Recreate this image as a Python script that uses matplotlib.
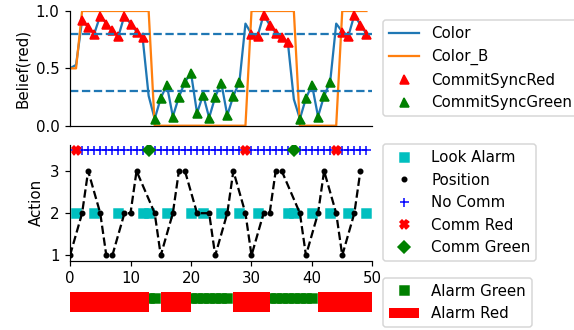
import matplotlib
matplotlib.use('Agg')
import matplotlib.pyplot as plt
import numpy as np

t = np.arange(50)

# belief that the alarm is red, one value per step
color = [0.50, 0.53, 0.92, 0.86, 0.80, 0.96, 0.89, 0.83, 0.78, 0.96,
         0.89, 0.82, 0.77, 0.26, 0.06, 0.24, 0.355, 0.08, 0.25, 0.38,
         0.46, 0.11, 0.27, 0.07, 0.25, 0.375, 0.09, 0.26, 0.38, 0.89,
         0.80, 0.78, 0.965, 0.88, 0.81, 0.77, 0.73, 0.23, 0.06, 0.24,
         0.355, 0.08, 0.26, 0.38, 0.89, 0.82, 0.78, 0.965, 0.88, 0.80]
color_b = [0.5, 0.5] + [1]*12 + [0]*16 + [1]*8 + [0]*7 + [1]*5

commit_red = list(range(2, 13)) + list(range(30, 37)) + list(range(45, 50))
commit_green = list(range(14, 29)) + list(range(38, 44))

# actions
pos_t = [0, 2, 3, 5, 6, 7, 9, 10, 11, 14, 15, 17, 18, 19, 21, 23, 24,
         26, 27, 29, 30, 32, 33, 34, 35, 38, 39, 41, 42, 44, 45, 47, 48]
pos_v = [1, 2, 3, 2, 1, 1, 2, 2, 3, 2, 1, 2, 3, 3, 2, 2, 1,
         2, 3, 2, 1, 2, 2, 3, 3, 2, 1, 2, 3, 2, 1, 2, 3]
look_t = [1, 4, 8, 12, 13, 16, 20, 22, 25, 28, 31, 36, 37, 40, 43, 46, 49]
comm_red_t = [1, 29, 44]
comm_green_t = [13, 37]
no_comm_t = [i for i in t if i not in comm_red_t + comm_green_t]

# alarm state
alarm_red = list(range(0, 13)) + list(range(15, 20)) + list(range(27, 33)) + list(range(41, 50))
alarm_green = [13, 14] + list(range(20, 27)) + list(range(33, 41))

W, H, dpi = 574, 330, 108
fig = plt.figure(figsize=(W/dpi, H/dpi), dpi=dpi)

def box(x0, y0, x1, y1):
    return [x0/W, 1 - y1/H, (x1-x0)/W, (y1-y0)/H]

color = np.array(color)

#Belief
ax1 = fig.add_axes(box(70, 11, 372.5, 125.7))
ax1.plot(t, color, label='Color')
ax1.plot(t, color_b, label='Color_B')
ax1.plot(commit_red, color[commit_red], 'r^', label='CommitSyncRed')
ax1.plot(commit_green, color[commit_green], 'g^', label='CommitSyncGreen')
ax1.axhline(0.8, ls='--')
ax1.axhline(0.3, ls='--')
ax1.set_xlim(0, 50)
ax1.set_ylim(0, 1)
ax1.set_xticks([])
ax1.set_ylabel('Belief(red)')
ax1.spines['top'].set_visible(False)
ax1.spines['right'].set_visible(False)
ax1.legend(loc='center left', bbox_to_anchor=(1.01, 0.5))

#Actions
ax2 = fig.add_axes(box(70, 144.6, 372.5, 260.7))
ax2.plot(look_t, [2]*len(look_t), 'cs', label='Look Alarm')
ax2.plot(pos_t, pos_v, 'k--', label='_pos')
ax2.plot(pos_t, pos_v, 'k.', label='Position')
ax2.plot(no_comm_t, [3.5]*len(no_comm_t), 'b+', label='No Comm')
ax2.plot(comm_red_t, [3.5]*len(comm_red_t), 'rX', label='Comm Red')
ax2.plot(comm_green_t, [3.5]*len(comm_green_t), 'gD', label='Comm Green')
ax2.set_xlim(0, 50)
ax2.set_yticks([1, 2, 3])
ax2.set_ylabel('Action')
ax2.spines['top'].set_visible(False)
ax2.spines['right'].set_visible(False)
ax2.legend(loc='center left', bbox_to_anchor=(1.01, 0.5))

#Alarm
ax3 = fig.add_axes(box(70, 292.3, 372.5, 312.3))
ax3.plot(alarm_green, [0.715]*len(alarm_green), 'gs', label='Alarm Green', zorder=1)
ax3.bar(alarm_red, 1, width=1, align='edge', color='r', label='Alarm Red', zorder=2)
ax3.set_xlim(0, 50)
ax3.set_ylim(0, 1)
ax3.axis('off')
ax3.legend(loc='center left', bbox_to_anchor=(1.01, 0.5))

plt.savefig('out.png', dpi=dpi)
